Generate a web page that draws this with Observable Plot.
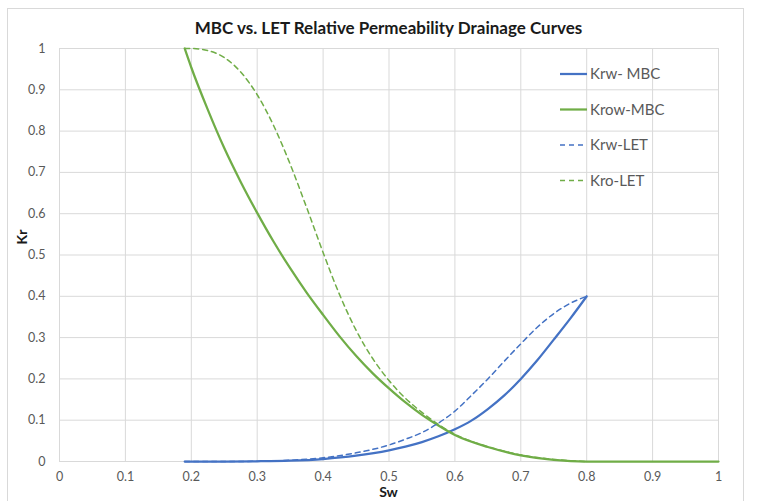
<!DOCTYPE html>
<html>
<head>
<meta charset="utf-8">
<script src="https://cdn.jsdelivr.net/npm/d3@7"></script>
<script src="https://cdn.jsdelivr.net/npm/@observablehq/plot@0.6"></script>
<style>
  html, body { margin: 0; padding: 0; background: #fff; }
  #chart { position: relative; width: 759px; height: 501px; overflow: hidden; font-family: Lato, "Open Sans", sans-serif; }
  #frame { position: absolute; left: 7px; top: 8px; width: 737px; height: 520px; border: 1px solid #d9d9d9; box-sizing: border-box; }
  #title { position: absolute; left: 0; width: 777px; top: 17px; text-align: center; font-weight: bold; font-size: 17px; color: #1a1a1a; }
  #xlabel { position: absolute; left: 59px; width: 659px; top: 485px; text-align: center; font-weight: bold; font-size: 14px; line-height: 14px; color: #1a1a1a; }
  #ylabel { position: absolute; left: 21px; top: 237px; transform: translate(-50%, -50%) rotate(-90deg); font-weight: bold; font-size: 14px; color: #1a1a1a; }
  #plot { position: absolute; left: 0; top: 0; }
</style>
</head>
<body>
<div id="chart">
  <div id="frame"></div>
  <div id="plot"></div>
  <div id="title">MBC vs. LET Relative Permeability Drainage Curves</div>
  <div id="xlabel">Sw</div>
  <div id="ylabel">Kr</div>
</div>
<script>
// ---- Data ----
const seriesNames  = ["Krw- MBC", "Krow-MBC", "Krw-LET", "Kro-LET"];
const seriesColors = ["#4472C4", "#70AD47", "#4472C4", "#70AD47"];
const seriesDashed = [false, false, true, true];

const krwMbcSw = [0.19, 0.25, 0.3, 0.35, 0.4, 0.45, 0.5, 0.525, 0.55, 0.575, 0.6, 0.625, 0.65, 0.675, 0.7, 0.725, 0.75, 0.775, 0.8];
const krwMbcKr = [0, 0, 0.0005, 0.002, 0.006, 0.014, 0.027, 0.036, 0.047, 0.061, 0.078, 0.099, 0.127, 0.16, 0.2, 0.245, 0.295, 0.346, 0.4];

const krowMbcSw = [0.19, 0.2, 0.225, 0.25, 0.275, 0.3, 0.325, 0.35, 0.375, 0.4, 0.425, 0.45, 0.475, 0.5, 0.525, 0.55, 0.575, 0.6, 0.65, 0.7, 0.75, 0.8, 0.9, 1.0];
const krowMbcKr = [1.0, 0.954, 0.852, 0.759, 0.677, 0.602, 0.532, 0.468, 0.409, 0.355, 0.303, 0.256, 0.214, 0.177, 0.143, 0.113, 0.087, 0.064, 0.035, 0.015, 0.004, 0, 0, 0];

const krwLetSw = [0.19, 0.25, 0.3, 0.35, 0.4, 0.45, 0.5, 0.525, 0.55, 0.575, 0.6, 0.625, 0.65, 0.675, 0.7, 0.725, 0.75, 0.775, 0.8];
const krwLetKr = [0, 0, 0.0005, 0.003, 0.009, 0.021, 0.04, 0.054, 0.07, 0.093, 0.122, 0.16, 0.2, 0.243, 0.285, 0.325, 0.358, 0.383, 0.4];

const kroLetSw = [0.19, 0.2, 0.225, 0.25, 0.275, 0.3, 0.325, 0.35, 0.375, 0.4, 0.425, 0.45, 0.475, 0.5, 0.525, 0.55, 0.575, 0.6, 0.65, 0.7, 0.75, 0.8];
const kroLetKr = [1.0, 1.0, 0.995, 0.978, 0.943, 0.888, 0.813, 0.72, 0.615, 0.506, 0.404, 0.318, 0.25, 0.196, 0.153, 0.119, 0.09, 0.066, 0.036, 0.016, 0.005, 0];

const xTicks = [0, 0.1, 0.2, 0.3, 0.4, 0.5, 0.6, 0.7, 0.8, 0.9, 1];
const xTickLabels = ["0", "0.1", "0.2", "0.3", "0.4", "0.5", "0.6", "0.7", "0.8", "0.9", "1"];
const yTicks = [0, 0.1, 0.2, 0.3, 0.4, 0.5, 0.6, 0.7, 0.8, 0.9, 1];
const yTickLabels = ["0", "0.1", "0.2", "0.3", "0.4", "0.5", "0.6", "0.7", "0.8", "0.9", "1"];

// ---- Build table ----
const allSw = [krwMbcSw, krowMbcSw, krwLetSw, kroLetSw];
const allKr = [krwMbcKr, krowMbcKr, krwLetKr, kroLetKr];
const rows = [];
seriesNames.forEach((name, s) => {
  allSw[s].forEach((sw, i) => rows.push({series: name, sw, kr: allKr[s][i]}));
});

const fontFam = "Lato, 'Open Sans', sans-serif";
const lineMarks = seriesNames.map((name, s) => Plot.line(rows.filter(r => r.series === name), {
  x: "sw", y: "kr",
  stroke: seriesColors[s],
  strokeWidth: seriesDashed[s] ? 1.5 : 2.25,
  strokeDasharray: seriesDashed[s] ? "5,4" : null,
  curve: "monotone-x"
}));

const chart = Plot.plot({
  width: 759,
  height: 501,
  marginLeft: 59,
  marginRight: 41,
  marginTop: 48,
  marginBottom: 40,
  style: {fontFamily: fontFam, background: "transparent", overflow: "visible"},
  x: {domain: [0, 1]},
  y: {domain: [0, 1]},
  marks: [
    Plot.gridX(xTicks, {stroke: "#d9d9d9", strokeOpacity: 1, strokeWidth: 1}),
    Plot.gridY(yTicks, {stroke: "#d9d9d9", strokeOpacity: 1, strokeWidth: 1}),
    Plot.axisX({ticks: xTicks, tickFormat: d => xTickLabels[xTicks.indexOf(d)], tickSize: 0, tickPadding: 11, label: null, fontSize: 12.5, fill: "#595959"}),
    Plot.axisY({ticks: yTicks, tickFormat: d => yTickLabels[yTicks.indexOf(d)], tickSize: 0, tickPadding: 14, label: null, fontSize: 12.5, fill: "#595959"}),
    ...lineMarks
  ]
});
document.getElementById("plot").appendChild(chart);

// ---- Legend (inside plot area, no background) ----
const svg = d3.select(chart);
const lg = svg.append("g").attr("transform", "translate(560,74)");
seriesNames.forEach((name, s) => {
  const g = lg.append("g").attr("transform", `translate(0,${s * 35.5})`);
  g.append("line").attr("x1", 0).attr("x2", 27).attr("y1", 0).attr("y2", 0)
    .attr("stroke", seriesColors[s])
    .attr("stroke-width", seriesDashed[s] ? 1.5 : 2.25)
    .attr("stroke-dasharray", seriesDashed[s] ? "5,4" : null);
  g.append("text").attr("x", 30).attr("y", 0).attr("dy", "0.35em")
    .attr("text-anchor", "start")
    .attr("font-size", 15).attr("fill", "#595959").attr("font-family", fontFam)
    .text(name);
});
</script>
</body>
</html>
